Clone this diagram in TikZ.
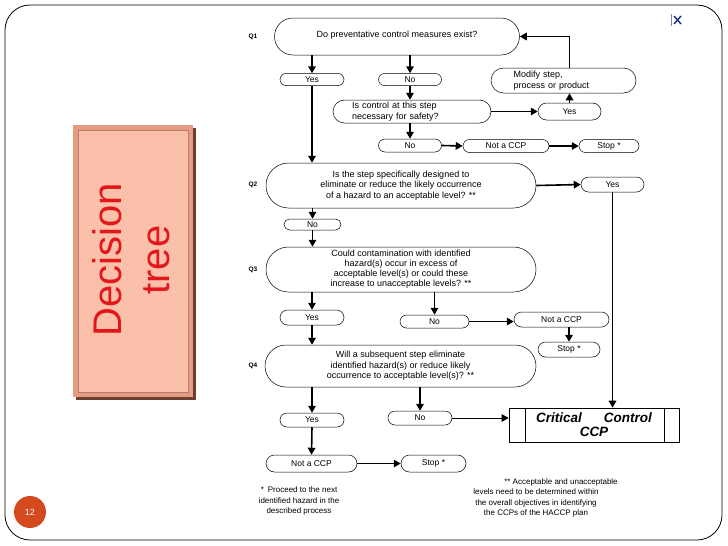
\documentclass[tikz,border=0pt]{standalone}
\usepackage{fontspec}
\setmainfont{Liberation Sans}
\usetikzlibrary{shapes.misc,arrows.meta,calc}
\definecolor{slidered}{HTML}{E3161B}
\definecolor{peach}{HTML}{FBC0A9}
\definecolor{peachedge}{HTML}{E49C82}
\definecolor{peachshadow}{HTML}{6E3E2E}
\definecolor{numorange}{HTML}{D44A1E}
\definecolor{iconblue}{HTML}{1F2F8F}
\begin{document}
\begin{tikzpicture}[x=1pt,y=-1pt,
  oval/.style={draw, line width=0.5pt, rounded rectangle, inner sep=1pt,
    font=\fontsize{9}{10.5}\selectfont, align=center},
  box/.style={draw, line width=0.5pt, rounded rectangle, inner sep=1pt,
    font=\fontsize{8.5}{9}\selectfont},
  arr/.style={line width=1.6pt, -{Triangle[length=7pt,width=7.5pt]}},
  thinarr/.style={line width=1pt, -{Triangle[length=7pt,width=7.5pt]}},
  qlab/.style={font=\bfseries\fontsize{6.5}{7}\selectfont},
  note/.style={font=\fontsize{8}{10.5}\selectfont, align=center}]
\useasboundingbox (0,0) rectangle (728,546);
\fill[white] (0,0) rectangle (728,546);
% slide frame
\draw[line width=0.8pt, rounded corners=25pt] (5,5) rectangle (722,540);
% decision tree label box
\fill[peachshadow] (76,128) rectangle (196,400);
\fill[peachedge] (73,125) rectangle (193,397);
\fill[peach] (78,130) rectangle (188,392);
\draw[peachedge!80!black, line width=0.4pt] (78,130) rectangle (188,392);
\node[rotate=90, text=slidered, font=\fontsize{40}{48}\selectfont, align=center] (dt) at (131,260) {Decision\\tree};
% slide number
\node[circle, fill=numorange, minimum size=32pt, inner sep=0pt, text=white, font=\fontsize{9}{10}\selectfont] (pg) at (30,512) {12};
% broken image icon
\draw[iconblue!60, line width=0.6pt] (671,14) -- (671,26);
\draw[iconblue, line width=1.4pt] (674,16) -- (681,24) (681,16) -- (674,24);
% question labels
\node[qlab] (l1) at (253,37) {Q1};
\node[qlab] (l2) at (253,185) {Q2};
\node[qlab] (l3) at (253,270) {Q3};
\node[qlab] (l4) at (253,366) {Q4};
% nodes
\node[oval, minimum width=247pt, minimum height=37pt] (q1) at (397,36.5) {\raisebox{4pt}{Do preventative control measures exist?}};
\node[box, minimum width=66pt, minimum height=12pt] (yes1) at (312,79.5) {Yes};
\node[box, minimum width=65pt, minimum height=12pt] (no1) at (410,79.5) {No};
\node[oval, minimum width=160pt, minimum height=23pt, text width=120pt, align=left] (safe) at (412,111.5) {Is control at this step\\necessary for safety?};
\node[box, minimum width=65pt, minimum height=13pt] (no2) at (410,145.5) {No};
\node[box, minimum width=88pt, minimum height=13pt] (nccp1) at (506,146) {Not a CCP};
\node[box, minimum width=62pt, minimum height=13pt] (stop1) at (609,146) {Stop *};
\node[box, minimum width=65pt, minimum height=17pt] (yes2) at (569.5,111.5) {Yes};
\node[oval, minimum width=147pt, minimum height=25pt, text width=100pt, align=left] (modify) at (563.5,80.5) {Modify step,\\process or product};
\node[oval, minimum width=272pt, minimum height=45pt] (q2) at (401,185.5) {Is the step specifically designed to\\eliminate or reduce the likely occurrence\\of a hazard to an acceptable level? **};
\node[box, minimum width=65pt, minimum height=15pt] (yes3) at (612.5,184.5) {Yes};
\node[box, minimum width=59pt, minimum height=11pt] (no3) at (312.5,224.5) {No};
\node[oval, minimum width=272pt, minimum height=45pt, font=\fontsize{9}{10}\selectfont] (q3) at (401,269.5) {Could contamination with identified\\hazard(s) occur in excess of\\acceptable level(s) or could these\\increase to unacceptable levels? **};
\node[box, minimum width=66pt, minimum height=15pt] (yes4) at (312,317.5) {Yes};
\node[box, minimum width=71pt, minimum height=13pt] (no4) at (434.5,321.5) {No};
\node[box, minimum width=97pt, minimum height=15pt] (nccp2) at (561.5,319.5) {Not a CCP};
\node[box, minimum width=64pt, minimum height=15pt] (stop2) at (569,349.5) {Stop *};
\node[oval, minimum width=273pt, minimum height=42pt] (q4) at (400.5,366) {Will a subsequent step eliminate\\identified hazard(s) or reduce likely\\occurrence to acceptable level(s)? **};
\node[box, minimum width=66pt, minimum height=14pt] (yes5) at (312,420) {Yes};
\node[box, minimum width=66pt, minimum height=14pt] (no5) at (420,418) {No};
\node[draw, line width=0.6pt, minimum width=170pt, minimum height=34pt, inner sep=0pt,
  font=\bfseries\itshape\fontsize{13.5}{14}\selectfont, align=center] (ccp) at (594,425) {Critical\hspace{22pt}Control\\CCP};
\draw[line width=0.6pt] ([xshift=17pt]ccp.north west) -- ([xshift=17pt]ccp.south west);
\draw[line width=0.6pt] ([xshift=-15pt]ccp.north east) -- ([xshift=-15pt]ccp.south east);
\node[box, minimum width=93pt, minimum height=17pt] (nccp3) at (311.5,463.5) {Not a CCP};
\node[box, minimum width=67pt, minimum height=17pt] (stop3) at (433.5,463.5) {Stop *};
% footnotes
\node[note] (n1) at (299,501) {*\hspace{4pt}Proceed to the next\\identified hazard in the\\described process};
\node[note] (n2) at (536,498) {\hspace*{50pt}** Acceptable and unacceptable\\levels need to be determined within\\the overall objectives in identifying\\the CCPs of the HACCP plan};
% connectors
\draw[arr] (q1.south -| yes1) -- (yes1.north);
\draw[arr] (q1.south -| no1) -- (no1.north);
\draw[arr] (no1.south) -- (no1.south |- safe.north);
\draw[arr] (safe.south -| no2) -- (no2.north);
\draw[arr] (no2.east) -- (nccp1.west);
\draw[arr] (nccp1.east) -- (stop1.west);
\draw[arr] (safe.east) -- (yes2.west);
\draw[arr] (yes2.north) -- (yes2.north |- modify.south);
\draw[arr] (modify.north -| yes2.north) |- (q1.east);
\draw[arr] (yes1.south) -- (yes1.south |- q2.north);
\draw[arr] (q2.east) -- (yes3.west);
\draw[arr] (yes3.south) -- (yes3.south |- ccp.north);
\draw[arr] (q2.south -| no3) -- (no3.north);
\draw[arr] (no3.south) -- (no3.south |- q3.north);
\draw[arr] (q3.south -| yes4) -- (yes4.north);
\draw[arr] (q3.south -| no4) -- (no4.north);
\draw[arr] (no4.east) -- (no4.east -| nccp2.west);
\draw[arr] (nccp2.south -| stop2) -- (stop2.north);
\draw[arr] (yes4.south) -- (yes4.south |- q4.north);
\draw[arr] (q4.south -| yes5) -- (yes5.north);
\draw[arr] (q4.south -| no5) -- (no5.north);
\draw[thinarr] (no5.east) -- (no5.east -| ccp.west);
\draw[arr] (yes5.south) -- (nccp3.north);
\draw[thinarr] (nccp3.east) -- (stop3.west);
\end{tikzpicture}
\end{document}
